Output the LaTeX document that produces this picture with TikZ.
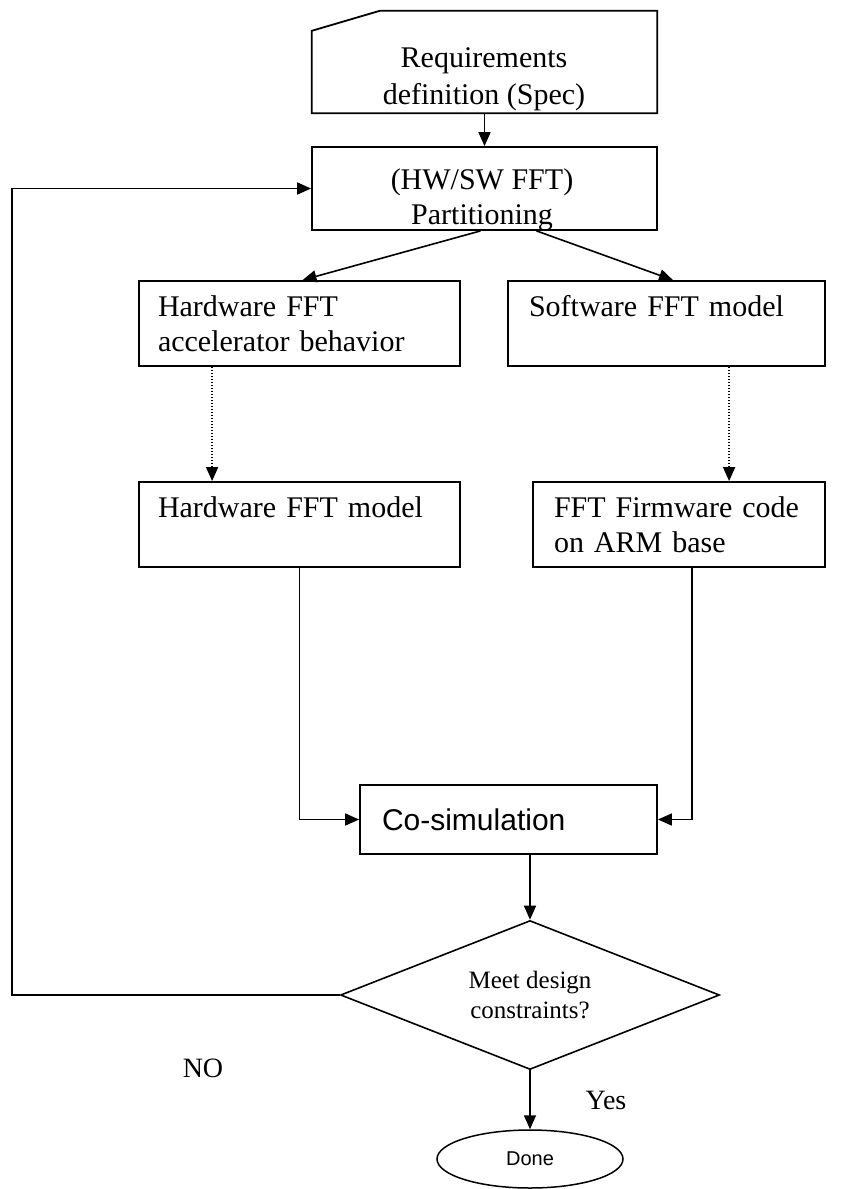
\documentclass[tikz,border=0pt]{standalone}
\usepackage{fontspec}
\setmainfont{Liberation Serif}
\newfontfamily\arialfont{Liberation Sans}
\usetikzlibrary{arrows.meta,shapes.geometric}

\tikzset{
  kutu/.style={draw, line width=1.8pt, minimum height=85pt, inner ysep=0pt,
    align=left, font=\fontsize{30}{35}\selectfont},
  ok/.style={line width=1.6pt, -{Triangle[length=14pt,width=12pt]}},
  nokta/.style={ok, dash pattern=on 1.5pt off 1.5pt},
  yazi/.style={font=\fontsize{28}{32}\selectfont}
}

\begin{document}
\begin{tikzpicture}[x=1pt, y=-1pt]
  \useasboundingbox (0,0) rectangle (845,1189);

  % Gereksinim kartı
  \node[minimum width=345pt, minimum height=102pt, inner sep=0pt] (spec) at (484.5,62) {};
  \draw[line width=1.8pt] ([yshift=-20pt]spec.north west) -- ([xshift=68pt]spec.north west)
    -- (spec.north east) -- (spec.south east) -- (spec.south west) -- cycle;
  \node[align=center, font=\fontsize{30}{37}\selectfont] (spectxt) at (484,79) {Requirements\\definition (Spec)};

  % Bölümleme
  \node[kutu, minimum width=345pt, minimum height=83pt] (part) at (484.5,188.5) {};
  \node[align=center, font=\fontsize{30}{35}\selectfont] (parttxt) at (482,199.5) {(HW/SW FFT)\\Partitioning};

  % Donanım ve yazılım kutuları
  \node[kutu, text width=283pt, inner xsep=19pt] (hwbeh) at (299.5,323.5) {Hardware FFT\\accelerator behavior};
  \node[kutu, text width=275pt, inner xsep=21pt] (swmod) at (666.5,323.5) {Software FFT model\\~};
  \node[kutu, text width=283pt, inner xsep=19pt] (hwmod) at (299.5,524.5) {Hardware FFT model\\~};
  \node[kutu, text width=250pt, inner xsep=21pt] (fwcode) at (679,524.5) {FFT Firmware code\\on ARM base};

  % Eş benzetim
  \node[kutu, text width=253pt, inner xsep=22pt, minimum height=69pt,
    font=\arialfont\fontsize{30}{35}\selectfont] (cosim) at (508.5,819.5) {Co-simulation};

  % Karar ve son
  \node[draw, diamond, aspect=2.54, minimum width=379pt, minimum height=149pt, inner sep=0pt,
    line width=1.6pt, align=center, font=\fontsize{25}{30}\selectfont] (check) at (530,995) {Meet design\\constraints?};
  \node[draw, ellipse, minimum width=186pt, minimum height=58pt, inner sep=0pt, line width=1.5pt,
    font=\arialfont\fontsize{20}{24}\selectfont] (done) at (530,1159) {Done};

  \node[yazi] (no) at (203,1068) {NO};
  \node[yazi] (yes) at (606,1100) {Yes};

  % Bağlantılar
  \coordinate (fb) at (12,995);
  \draw[ok] (spec.south) -- (part.north);
  \draw[ok] ([xshift=-4pt]part.south) -- ([xshift=3pt]hwbeh.north);
  \draw[ok] ([xshift=52pt]part.south) -- ([xshift=6.5pt]swmod.north);
  \draw[nokta] ([xshift=74pt]hwbeh.south west) -- ([xshift=74pt]hwmod.north west);
  \draw[nokta] ([xshift=222pt]swmod.south west) -- ([xshift=197pt]fwcode.north west);
  \draw[ok] (hwmod.south) |- (cosim.west);
  \draw[ok] ([xshift=160pt]fwcode.south west) |- (cosim.east);
  \draw[ok] (cosim.south -| check.north) -- (check.north);
  \draw[ok] (check.south) -- (done.north);
  \draw[ok] (check.west) -- (fb) |- (part.west);
\end{tikzpicture}
\end{document}
